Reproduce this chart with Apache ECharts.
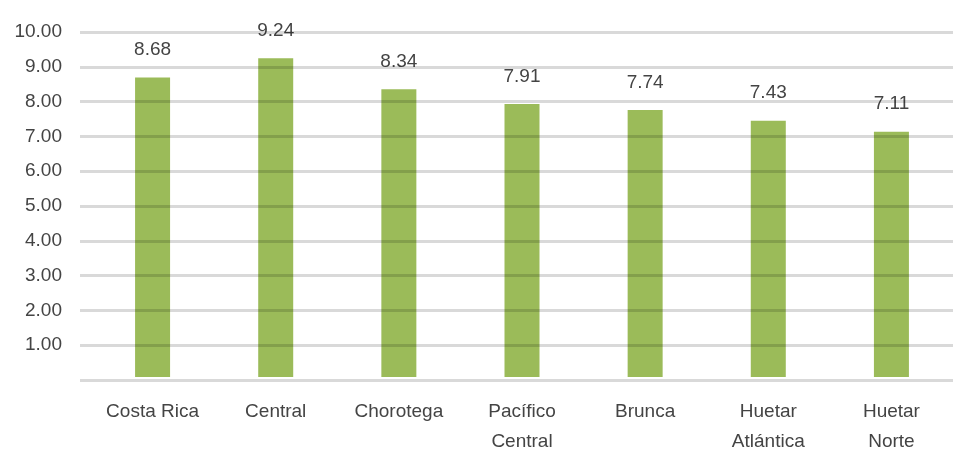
<!DOCTYPE html>
<html>
<head>
<meta charset="utf-8">
<script src="https://cdn.jsdelivr.net/npm/echarts@6/dist/echarts.min.js"></script>
<style>
  html, body { margin: 0; padding: 0; background: #ffffff; }
  #chart { width: 953px; height: 457px; }
</style>
</head>
<body>
<div id="chart"></div>
<script>
// Regions and their scores
const regions = ['Costa Rica', 'Central', 'Chorotega', 'Pacífico\nCentral', 'Brunca', 'Huetar\nAtlántica', 'Huetar\nNorte'];
const scores = [8.68, 9.24, 8.34, 7.91, 7.74, 7.43, 7.11];
const yTicks = [0, 1, 2, 3, 4, 5, 6, 7, 8, 9, 10];

const textColor = '#444444';
const fontFamily = '"Liberation Sans", Arial, sans-serif';
const yMin = yTicks[0];
const yMax = yTicks[yTicks.length - 1];

const chart = echarts.init(document.getElementById('chart'), null, { renderer: 'canvas' });

chart.setOption({
  animation: false,
  backgroundColor: '#ffffff',
  grid: [
    // grid holding the value scale and the horizontal rules
    { left: 80, right: -4, top: 32, bottom: 77, containLabel: false },
    // grid holding the bars
    { left: 91, right: -8, top: 32, bottom: 77, containLabel: false }
  ],
  xAxis: [
    { gridIndex: 0, type: 'value', show: false, min: 0, max: 1 },
    {
      gridIndex: 1,
      type: 'category',
      data: regions,
      axisLine: { show: false },
      axisTick: { show: false },
      axisLabel: {
        color: textColor,
        fontFamily: fontFamily,
        fontSize: 19,
        lineHeight: 30,
        margin: 20,
        interval: 0
      }
    }
  ],
  yAxis: [
    {
      gridIndex: 0,
      type: 'value',
      min: yMin,
      max: yMax,
      interval: 1,
      z: 10,
      axisLine: { show: false },
      axisTick: { show: false },
      axisLabel: {
        color: textColor,
        fontFamily: fontFamily,
        fontSize: 19,
        margin: 18,
        formatter: v => (v === 0 ? '' : v.toFixed(2))
      },
      splitLine: {
        show: true,
        lineStyle: { color: 'rgba(0,0,0,0.15)', width: 3 }
      }
    },
    {
      gridIndex: 1,
      type: 'value',
      min: yMin,
      max: yMax,
      interval: 1,
      show: false,
      splitLine: { show: false }
    }
  ],
  series: [
    {
      type: 'bar',
      xAxisIndex: 1,
      yAxisIndex: 1,
      data: scores,
      barWidth: 35,
      itemStyle: { color: '#9bbb59' },
      label: {
        show: true,
        position: 'top',
        distance: 18,
        color: textColor,
        fontFamily: fontFamily,
        fontSize: 19,
        formatter: p => p.value.toFixed(2)
      }
    }
  ]
});
</script>
</body>
</html>
